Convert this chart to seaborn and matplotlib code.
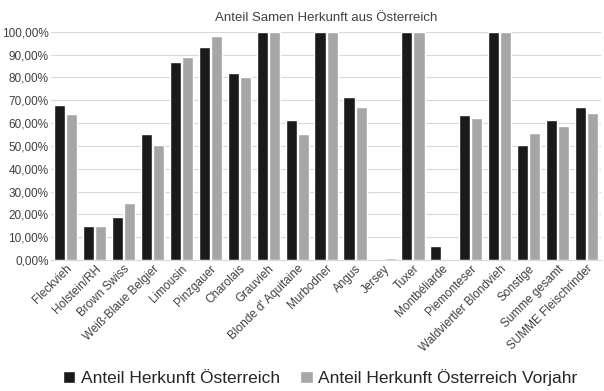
import matplotlib.pyplot as plt
import pandas as pd
import seaborn as sns
from matplotlib.ticker import FuncFormatter

categories = [
    "Fleckvieh", "Holstein/RH", "Brown Swiss", "Weiß-Blaue Belgier", "Limousin",
    "Pinzgauer", "Charolais", "Grauvieh", "Blonde d' Aquitaine", "Murbodner",
    "Angus", "Jersey", "Tuxer", "Montbéliarde", "Piemonteser",
    "Waldviertler Blondvieh", "Sonstige", "Summe gesamt", "SUMME Fleischrinder",
]
anteil = [68.0, 14.7, 19.0, 55.2, 86.5, 93.5, 82.0, 100.0, 61.2, 100.0,
          71.3, 0.0, 100.0, 6.0, 63.5, 100.0, 50.3, 61.3, 67.0]
anteil_vorjahr = [64.0, 15.0, 24.8, 50.5, 89.0, 98.3, 80.0, 100.0, 55.0, 100.0,
                  67.0, 0.7, 100.0, 0.0, 62.0, 100.0, 55.5, 58.5, 64.3]

series_names = ["Anteil Herkunft Österreich", "Anteil Herkunft Österreich Vorjahr"]

df = pd.DataFrame({
    "Rasse": categories * 2,
    "Wert": anteil + anteil_vorjahr,
    "Serie": [series_names[0]] * len(categories) + [series_names[1]] * len(categories),
})

sns.set_style("white")
plt.rcParams["font.family"] = ["Liberation Sans", "DejaVu Sans"]

fig = plt.figure(figsize=(6.04, 3.91), dpi=100)
ax = fig.add_axes([0.085, 0.335, 0.91, 0.584])

sns.barplot(
    data=df, x="Rasse", y="Wert", hue="Serie",
    palette=["#1a1a1a", "#a6a6a6"], width=0.84, gap=0.08,
    saturation=1, ax=ax, legend=True,
)

ax.set_ylim(0, 100)
ax.set_xlim(-0.5, len(categories) - 0.5)
ax.set_yticks(range(0, 101, 10))
ax.yaxis.set_major_formatter(FuncFormatter(lambda v, _: f"{v:.2f}%".replace(".", ",")))
ax.grid(axis="y", color="#d9d9d9", linewidth=0.8)
ax.set_axisbelow(True)
for side in ("top", "right", "left"):
    ax.spines[side].set_visible(False)
ax.spines["bottom"].set_color("#d9d9d9")
ax.tick_params(axis="both", length=0, labelsize=8.5, colors="#404040", pad=2)
ax.set_xlabel("")
ax.set_ylabel("")
plt.setp(ax.get_xticklabels(), rotation=45, ha="right", rotation_mode="anchor")

ax.set_title("Anteil Samen Herkunft aus Österreich", fontsize=9.5, color="#404040", pad=8)

handles, labels = ax.get_legend_handles_labels()
ax.get_legend().remove()
fig.legend(
    handles, labels, loc="center", bbox_to_anchor=(0.53, 0.035), ncol=2,
    frameon=False, fontsize=12.5, handlelength=0.7, handleheight=0.7,
    handletextpad=0.3, columnspacing=1.2, labelcolor="#262626",
)

fig.savefig("out.png", dpi=100, facecolor="white")
